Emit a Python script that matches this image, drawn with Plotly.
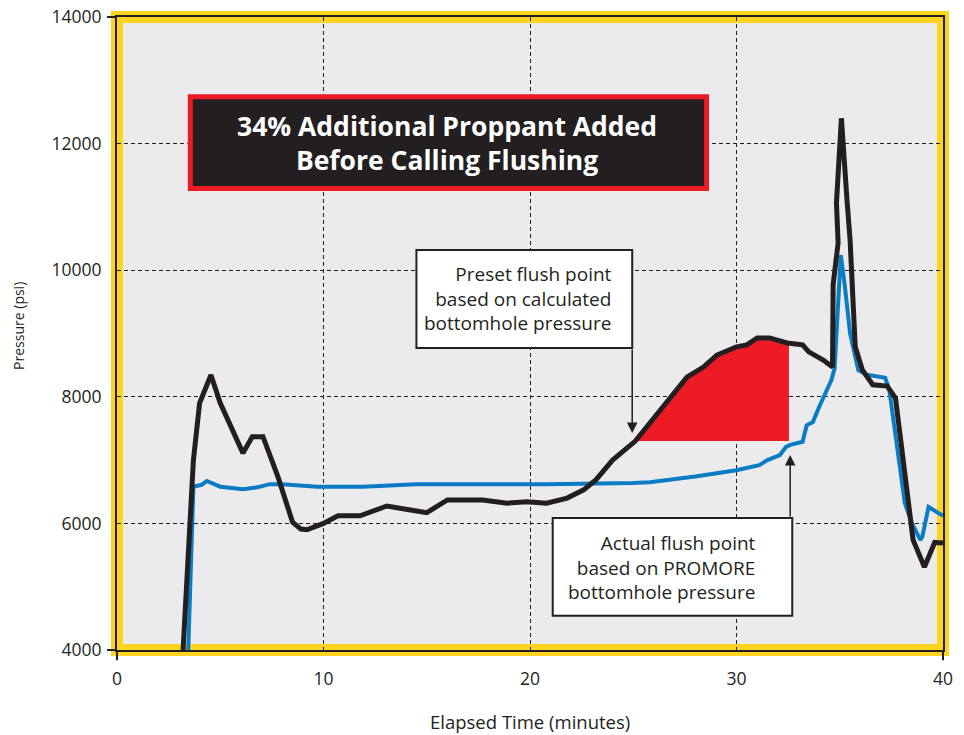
import numpy as np
import plotly.graph_objects as go

# ---- data ----
black_t = [3.2, 3.7, 4.0, 4.55, 5.0, 6.1, 6.55, 7.07, 7.8, 8.5, 8.9, 9.2, 10.0, 10.7, 11.77,
           13.07, 13.7, 15.0, 16.0, 17.7, 18.9, 19.85, 20.8, 21.8, 22.6, 23.2, 24.0, 25.1, 27.6, 28.4,
           29.05, 30.0, 30.5, 31.0, 31.6, 32.45, 33.2, 33.5, 34.2, 34.65, 34.68, 34.92, 34.84, 35.08, 35.35,
           35.5, 35.75, 36.1, 36.6, 37.3, 37.7, 38.55, 39.1, 39.6, 40.0]
black_p = [4000, 7000, 7900, 8345, 7900, 7110, 7370, 7370, 6730, 6020, 5910, 5900, 6000, 6120, 6120,
           6275, 6240, 6170, 6370, 6370, 6320, 6340, 6320, 6400, 6530, 6690, 7000, 7300, 8310, 8470,
           8660, 8790, 8820, 8930, 8930, 8850, 8820, 8710, 8580, 8470, 9770, 10430, 11060, 12400, 11110,
           10480, 8790, 8420, 8190, 8170, 7980, 5740, 5310, 5700, 5690]

blue_t = [3.45, 3.7, 4.1, 4.35, 5.0, 6.1, 6.8, 7.4, 8.0, 9.7, 11.9, 14.5, 16.1, 20.8, 25.0,
          25.8, 28.0, 30.0, 31.1, 31.5, 32.1, 32.4, 32.6, 33.2, 33.4, 33.7, 34.0, 34.4, 34.6, 34.75,
          34.9, 35.05, 35.25, 35.5, 35.9, 36.3, 37.2, 37.4, 38.15, 38.5, 38.9, 39.0, 39.3, 39.7, 40.0]
blue_p = [4000, 6580, 6610, 6670, 6580, 6540, 6570, 6620, 6620, 6580, 6580, 6620, 6620, 6620, 6640,
          6650, 6740, 6840, 6920, 7000, 7080, 7210, 7240, 7290, 7550, 7600, 7840, 8110, 8270, 8450,
          9420, 10240, 9740, 9000, 8420, 8350, 8300, 8110, 6320, 6000, 5740, 5790, 6260, 6180, 6120]

x_ticks = [0, 10, 20, 30, 40]
y_ticks = [4000, 6000, 8000, 10000, 12000, 14000]

# flush points
preset_t, preset_p = 24.95, 7430      # preset flush point (arrow tip)
actual_t, actual_p = 32.6, 7080       # actual flush point (arrow tip)
fill_t0, fill_t1, fill_base = 25.1, 32.54, 7300

title_lines = ["34% Additional Proppant Added", "Before Calling Flushing"]
preset_lines = ["Preset flush point", "based on calculated", "bottomhole pressure"]
actual_lines = ["Actual flush point", "based on PROMORE", "bottomhole pressure"]

# ---- style ----
FONT = "Open Sans"
TXT = "#231f20"
BLACK = "#231f20"
BLUE = "#0a7cc4"
RED = "#ed1c24"
YELLOW = "#ffd420"
BG = "#ebebee"

# red area between black curve and baseline
bt = np.array(black_t[:40])
bp = np.array(black_p[:40])
mask = (bt > fill_t0) & (bt < fill_t1)
fx = [fill_t0] + list(bt[mask]) + [fill_t1, fill_t1, fill_t0]
fy = [float(np.interp(fill_t0, bt, bp))] + list(bp[mask]) + [float(np.interp(fill_t1, bt, bp)), fill_base, fill_base]

fig = go.Figure()
fig.add_trace(go.Scatter(x=fx, y=fy, mode="lines", fill="toself", fillcolor=RED,
                         line=dict(width=0, color=RED), hoverinfo="skip", showlegend=False))
fig.add_trace(go.Scatter(x=blue_t, y=blue_p, mode="lines", line=dict(color=BLUE, width=4),
                         showlegend=False))
fig.add_trace(go.Scatter(x=black_t, y=black_p, mode="lines", line=dict(color=BLACK, width=5),
                         showlegend=False))

shapes = []
# yellow frame
shapes.append(dict(type="rect", xref="paper", yref="paper", x0=0, x1=1, y0=0, y1=1,
                   line=dict(color=YELLOW, width=12), layer="between"))
# frame tick extensions
for (x0, x1, y0, y1) in [(0, 0, 0, -0.016), (1, 1, 0, -0.016), (0, -0.012, 0, 0), (0, -0.012, 1, 1)]:
    shapes.append(dict(type="line", xref="paper", yref="paper", x0=x0, x1=x1, y0=y0, y1=y1,
                       line=dict(color=BLACK, width=2)))
# title box
shapes.append(dict(type="rect", xref="x", yref="y", x0=3.55, x1=28.55, y0=11290, y1=12740,
                   fillcolor=BLACK, line=dict(color=RED, width=5), layer="above"))
# text boxes
shapes.append(dict(type="rect", xref="x", yref="y", x0=14.5, x1=24.95, y0=8772, y1=10320,
                   fillcolor="white", line=dict(color=BLACK, width=2), layer="above"))
shapes.append(dict(type="rect", xref="x", yref="y", x0=21.1, x1=32.7, y0=4540, y1=6086,
                   fillcolor="white", line=dict(color=BLACK, width=2), layer="above"))

annotations = [
    dict(x=16.0, y=12011, xref="x", yref="y", text="<br>".join(title_lines), showarrow=False,
         font=dict(family=FONT, size=26.5, color="white", weight="bold"), align="center",
         xanchor="center", yanchor="middle"),
    dict(x=24.07, y=9546, xref="x", yref="y", text="<br>".join(preset_lines), showarrow=False,
         font=dict(family=FONT, size=19, color=TXT), align="right",
         xanchor="right", yanchor="middle"),
    dict(x=31.04, y=5311, xref="x", yref="y", text="<br>".join(actual_lines), showarrow=False,
         font=dict(family=FONT, size=19, color=TXT), align="right",
         xanchor="right", yanchor="middle"),
    dict(x=preset_t, y=preset_p, ax=preset_t, ay=8772, xref="x", yref="y", axref="x", ayref="y",
         text="", showarrow=True, arrowhead=2, arrowsize=1.4, arrowwidth=1.5, arrowcolor=BLACK),
    dict(x=actual_t, y=actual_p, ax=actual_t, ay=6086, xref="x", yref="y", axref="x", ayref="y",
         text="", showarrow=True, arrowhead=2, arrowsize=1.4, arrowwidth=1.5, arrowcolor=BLACK),
    dict(x=0.5, y=0, xref="paper", yref="paper", text="Elapsed Time (minutes)", showarrow=False,
         font=dict(family=FONT, size=18.5, color=TXT), xanchor="center", yanchor="top", yshift=-57),
    dict(x=0, y=0.512, xref="paper", yref="paper", text="Pressure (psi)", showarrow=False,
         font=dict(family=FONT, size=14, color=TXT), textangle=-90,
         xanchor="center", yanchor="middle", xshift=-98),
]

fig.update_layout(
    width=964, height=735,
    margin=dict(l=117, r=21, t=17, b=85, autoexpand=False),
    paper_bgcolor="white", plot_bgcolor=BG,
    font=dict(family=FONT, color=TXT),
    shapes=shapes, annotations=annotations, showlegend=False,
)
fig.update_xaxes(range=[0, 40], tickvals=x_ticks, ticktext=[str(v) for v in x_ticks],
                 showgrid=True, gridcolor=BLACK, gridwidth=1, griddash="4px,3px",
                 showline=True, linecolor=BLACK, linewidth=2, mirror=True, zeroline=False,
                 ticks="outside", ticklen=12, tickcolor="rgba(0,0,0,0)", automargin=False,
                 ticklabeloverflow="allow",
                 tickfont=dict(family=FONT, size=17.5, color=TXT))
fig.update_yaxes(range=[4000, 14000], tickvals=y_ticks, ticktext=[str(v) for v in y_ticks],
                 showgrid=True, gridcolor=BLACK, gridwidth=1, griddash="4px,3px",
                 showline=True, linecolor=BLACK, linewidth=2, mirror=True, zeroline=False,
                 ticks="outside", ticklen=10, tickcolor="rgba(0,0,0,0)", automargin=False,
                 ticklabeloverflow="allow",
                 tickfont=dict(family=FONT, size=17.5, color=TXT))

# remove the page's default body margin so the figure fills the window exactly
fig.write_html("out.html", config={"displayModeBar": False},
               post_script="document.body.style.margin='0';document.body.style.overflow='hidden';")
